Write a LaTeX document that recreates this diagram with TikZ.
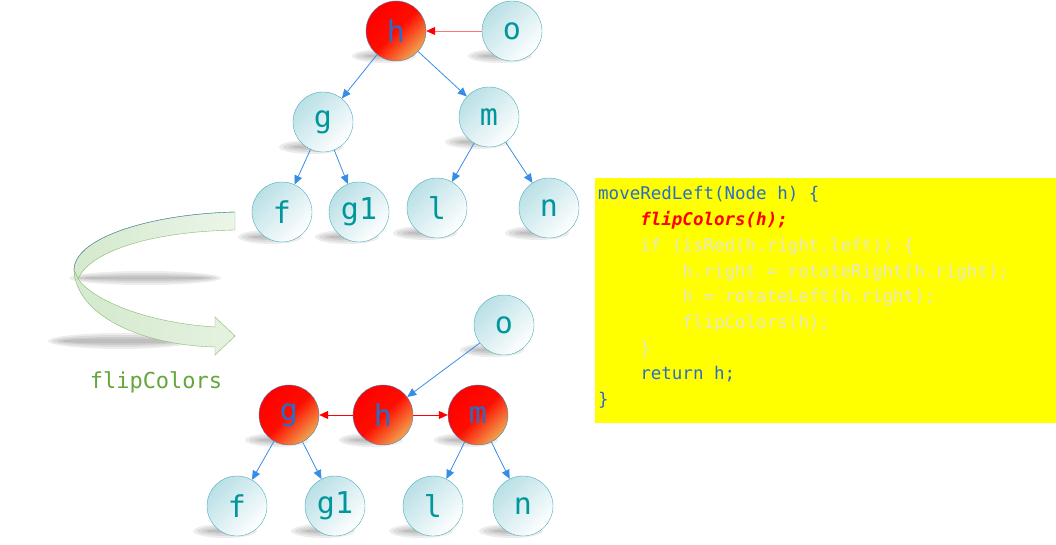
\documentclass[tikz,border=0pt]{standalone}
\usepackage{fontspec}
\setmonofont{DejaVu Sans Mono}
\usetikzlibrary{arrows.meta,positioning,backgrounds}

\definecolor{rimTeal}{RGB}{75,172,186}
\definecolor{fillTeal}{RGB}{185,224,230}
\definecolor{textTeal}{RGB}{0,150,155}
\definecolor{edgeBlue}{RGB}{55,140,230}
\definecolor{rimBlue}{RGB}{79,129,189}
\definecolor{redEnd}{RGB}{240,165,80}
\definecolor{keyBlue}{RGB}{40,110,200}
\definecolor{codeFade}{RGB}{232,232,200}
\definecolor{codeBack}{RGB}{255,255,0}
\definecolor{ribbonGreen}{RGB}{135,185,105}
\definecolor{ribbonFill}{RGB}{212,233,205}
\definecolor{labelGreen}{RGB}{100,165,60}

\newcommand{\codetab}{\phantom{0000}}
% soft gray shadow: centre, x radius, y radius
\newcommand{\softshadow}[3]{%
	\fill[black, opacity=0.07] #1 ellipse ({#2+4} and {#3+2});
	\fill[black, opacity=0.07] #1 ellipse (#2 and #3);
	\fill[black, opacity=0.07] #1 ellipse ({#2-5} and {#3-2});
	\fill[black, opacity=0.07] #1 ellipse ({#2-10} and {#3-3.5});}

\begin{document}
\begin{tikzpicture}[x=1pt, y=-1pt]
	\tikzstyle{Key}    = [circle, draw=rimTeal, minimum size=60pt, inner sep=0pt, top color=fillTeal, bottom color=white, shading angle=45, text=textTeal, font=\ttfamily\fontsize{30}{30}\selectfont]
	\tikzstyle{RedKey} = [Key, draw=rimBlue, top color=red, bottom color=redEnd, middle color=red!90!orange, shading angle=45, text=keyBlue]
	\tikzstyle{BL}     = [edgeBlue, line width=0.8pt, -{Triangle[length=9pt, width=8pt]}]
	\tikzstyle{RL}     = [red, line width=0.8pt, -{Triangle[length=9pt, width=8pt]}]
	\tikzstyle{Code}   = [anchor=base west, inner sep=0pt, text=keyBlue, font=\ttfamily\fontsize{17.5}{17.5}\selectfont]

	\useasboundingbox (0,0) rectangle (1056,545);

	% tree before
	\node (th)  at (396, 31) [RedKey] {h};
	\node (to)  at (512, 31) [Key] {o};
	\node (tg)  at (323,122) [Key] {g};
	\node (tm)  at (489,117) [Key] {m};
	\node (tf)  at (282,212) [Key] {f};
	\node (tg1) at (359,212) [Key] {g1};
	\node (tl)  at (437,208) [Key] {l};
	\node (tn)  at (549,208) [Key] {n};

	\draw (to) -- (th) [red!55, line width=0.8pt, -{Triangle[length=9pt, width=8pt, color=red]}];
	\draw (th) -- (tg) [BL];
	\draw (th) -- (tm) [BL];
	\draw (tg) -- (tf) [BL];
	\draw (tg) -- (tg1) [BL];
	\draw (tm) -- (tl) [BL];
	\draw (tm) -- (tn) [BL];

	% tree after
	\node (bo)  at (504,325) [Key] {o};
	\node (bg)  at (289,415) [RedKey] {g};
	\node (bh)  at (383,415) [RedKey] {h};
	\node (bm)  at (478,415) [RedKey] {m};
	\node (bf)  at (237,506) [Key] {f};
	\node (bg1) at (335,506) [Key] {g1};
	\node (bl)  at (433,506) [Key] {l};
	\node (bn)  at (523,506) [Key] {n};

	\draw (bo) -- (bh) [BL];
	\draw (bh) -- (bg) [RL];
	\draw (bh) -- (bm) [RL];
	\draw (bg) -- (bf) [BL];
	\draw (bg) -- (bg1) [BL];
	\draw (bm) -- (bl) [BL];
	\draw (bm) -- (bn) [BL];

	% shadows
	\begin{scope}[on background layer]
		\foreach \v in {th,to,tg,tm,tf,tg1,tl,tn,bo,bg,bh,bm,bf,bg1,bl,bn}
			{\softshadow{([shift={(-12,25)}]\v.center)}{28}{5}}
		\softshadow{(145,278)}{72}{5}
		\softshadow{(120,341)}{68}{6}
	\end{scope}

	% flip arrow
	\path[left color=ribbonFill, right color=ribbonFill!45, draw=ribbonGreen] (235,212) .. controls (150,214) and (74,238) .. (74,270) -- (78,279) .. controls (88,255) and (140,232) .. (235,230) -- cycle;
	\draw[rimBlue] (235,212) .. controls (150,214) and (74,238) .. (74,270);
	\path[left color=ribbonFill, right color=ribbonFill!60, draw=ribbonGreen] (74,270) .. controls (76,315) and (140,345) .. (215,347) -- (215,355) -- (235,336) -- (215,317) -- (215,327) .. controls (150,323) and (95,302) .. (78,279) -- cycle;
	\node (lbl) at (156,388) [anchor=base, inner sep=0pt, text=labelGreen, font=\ttfamily\fontsize{22}{22}\selectfont] {flipColors};

	% code
	\node (box) at (595,178) [anchor=north west, fill=codeBack, minimum width=461pt, minimum height=245pt, inner sep=0pt] {};
	\node (c1) at ([xshift=3pt, yshift=-22pt]box.north west) [Code] {moveRedLeft(Node h) \{};
	\node (c2) at ([yshift=-25.7pt]c1.base west) [Code, text=red] {\codetab\textbf{\textit{flipColors(h);}}};
	\node (c3) at ([yshift=-25.7pt]c2.base west) [Code, text=codeFade] {\codetab if (isRed(h.right.left)) \{};
	\node (c4) at ([yshift=-25.7pt]c3.base west) [Code, text=codeFade] {\codetab\codetab h.right = rotateRight(h.right);};
	\node (c5) at ([yshift=-25.7pt]c4.base west) [Code, text=codeFade] {\codetab\codetab h = rotateLeft(h.right);};
	\node (c6) at ([yshift=-25.7pt]c5.base west) [Code, text=codeFade] {\codetab\codetab flipColors(h);};
	\node (c7) at ([yshift=-25.7pt]c6.base west) [Code, text=codeFade] {\codetab\}};
	\node (c8) at ([yshift=-25.7pt]c7.base west) [Code] {\codetab return h;};
	\node (c9) at ([yshift=-25.7pt]c8.base west) [Code] {\}};
\end{tikzpicture}
\end{document}
